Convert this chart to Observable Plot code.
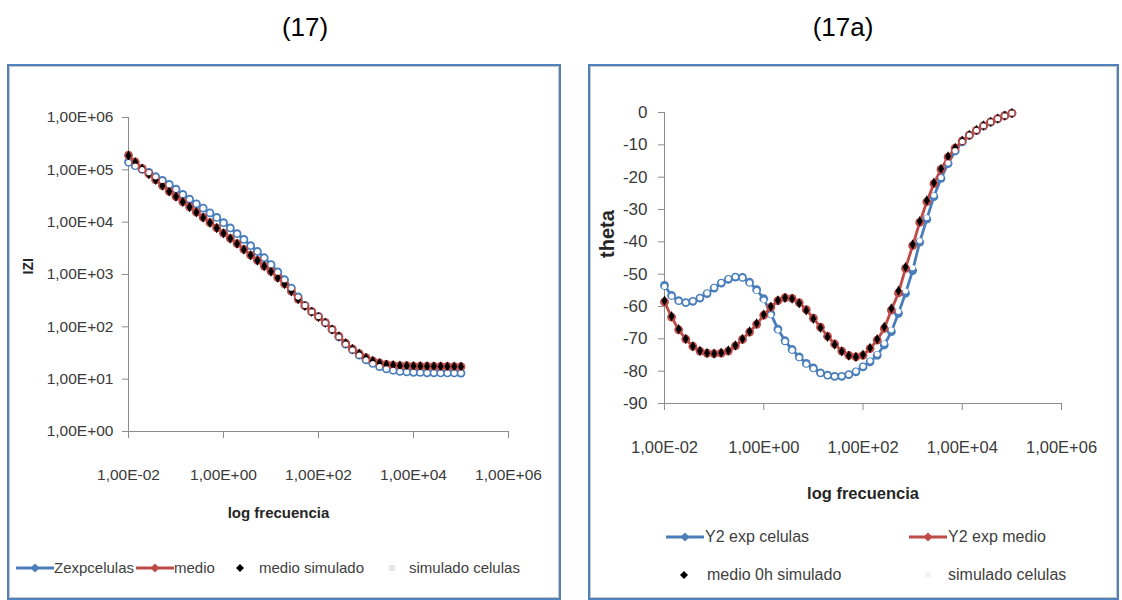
<!DOCTYPE html>
<html><head><meta charset="utf-8">
<script src="https://cdn.jsdelivr.net/npm/d3@7"></script>
<script src="https://cdn.jsdelivr.net/npm/@observablehq/plot@0.6"></script>
<style>
body{margin:0;background:#fff;}
#page{position:relative;width:1122px;height:600px;overflow:hidden;background:#fff;font-family:"Liberation Sans",Arial,sans-serif;}
.title{position:absolute;top:9px;font-family:"Liberation Sans",Arial,sans-serif;font-size:26px;color:#000;transform:translateX(-50%);white-space:nowrap;line-height:36px;}
.box{position:absolute;box-sizing:border-box;border:2px solid #4f81bd;box-shadow:inset 0 0 0 1px #c4c4c4;}
.holder{position:absolute;}
.leg{position:absolute;white-space:nowrap;color:#404040;height:24px;line-height:24px;}
.sw{position:absolute;}
</style></head>
<body><div id="page">
<div class="title" style="left:305px">(17)</div>
<div class="title" style="left:843px">(17a)</div>
<div class="box" style="left:7px;top:64px;width:554px;height:536px"></div>
<div class="box" style="left:588px;top:64px;width:531px;height:536px"></div>
<div id="left" class="holder" style="left:10px;top:67px;width:535px;height:470px"></div>
<div id="right" class="holder" style="left:591px;top:67px;width:510px;height:450px"></div>
</div>
<script>
// ---------- data ----------
const freq = [0.01,0.01389,0.01931,0.02683,0.03728,0.05179,0.07197,
  0.1,0.1389,0.1931,0.2683,0.3728,0.5179,0.7197,
  1,1.389,1.931,2.683,3.728,5.179,7.197,
  10,13.89,19.31,26.83,37.28,51.79,71.97,
  100,138.9,193.1,268.3,372.8,517.9,719.7,
  1000,1389,1931,2683,3728,5179,7197,
  10000,13895,19307,26827,37276,51795,71969,100000];

// |Z| (chart 17)
const zCells = [141000,120000,102000,89100,74100,63100,52500,42700,33900,27500,
  22400,18600,15100,12300,9770,7760,6030,4680,3550,2750,
  2090,1550,1120,794,550,372,257,195,158,120,
  89.1,64.6,46.8,36.3,28.8,23.4,20.0,17.4,15.8,14.8,
  14.1,13.8,13.5,13.5,13.2,13.2,13.2,13.2,13.2,13.1];
const zMedio = [191000,141000,107000,83200,64600,50100,38900,30900,24500,19500,
  15500,12300,9770,7760,6170,4900,3890,3020,2340,1860,
  1450,1150,871,661,479,339,251,195,155,120,
  89.1,66.1,49.0,38.0,30.9,25.7,22.4,20.4,19.1,18.6,
  18.2,18.2,17.8,17.8,17.7,17.6,17.6,17.5,17.4,17.3];
const zSimMedio = [186000,139000,106000,82500,64000,49800,38700,30800,24400,19400,
  15400,12200,9700,7700,6120,4870,3870,3000,2330,1850,
  1440,1140,865,655,476,337,250,194,154,119,
  88.5,65.8,48.8,37.9,30.8,25.6,22.3,20.3,19.0,18.5,
  18.1,18.0,17.8,17.7,17.6,17.6,17.5,17.4,17.4,17.3];
const zSimCells = [138000,118000,101000,88300,73500,62600,52100,42400,33700,27400,
  22300,18500,15000,12200,9700,7700,5990,4650,3530,2740,
  2080,1540,1110,790,548,371,256,194,157,119,
  88.7,64.3,46.6,36.2,28.7,23.3,19.9,17.3,15.7,14.7,
  14.0,13.7,13.5,13.4,13.2,13.2,13.1,13.1,13.1,13.1];

// theta (chart 17a)
const thetaCells = [-53.5,-56.6,-58.2,-58.8,-58.4,-57.4,-56.0,-54.3,-52.8,-51.6,
  -50.9,-51.0,-52.5,-54.8,-57.6,-62.3,-67.0,-70.6,-73.3,-75.6,
  -77.6,-79.0,-80.5,-81.2,-81.6,-81.6,-81.1,-80.2,-78.7,-77.1,
  -75.1,-71.9,-67.8,-62.1,-55.9,-48.9,-40.1,-33.0,-26.0,-20.4,
  -15.8,-11.9,-9.1,-7.1,-5.6,-4.2,-3.0,-2.0,-1.0,-0.2];
const thetaMedio = [-58.6,-63.3,-67.2,-70.1,-72.3,-73.8,-74.4,-74.6,-74.4,-73.8,
  -72.2,-70.2,-67.9,-65.5,-62.7,-60.2,-58.2,-57.3,-57.5,-58.8,
  -61.0,-63.6,-66.4,-69.2,-71.6,-73.8,-75.1,-75.6,-75.1,-73.0,
  -70.4,-66.8,-61.1,-55.8,-48.2,-41.2,-34.0,-27.6,-22.0,-17.6,
  -13.8,-11.0,-8.8,-7.0,-5.5,-4.1,-2.9,-1.9,-1.0,-0.2];
const thetaSimMedio = [-58.2,-63.0,-67.0,-70.0,-72.3,-73.7,-74.4,-74.6,-74.3,-73.6,
  -72.0,-70.0,-67.7,-65.2,-62.5,-60.0,-58.1,-57.3,-57.6,-59.0,
  -61.2,-63.8,-66.6,-69.4,-71.8,-73.9,-75.2,-75.6,-74.9,-72.8,
  -70.1,-66.3,-60.6,-55.1,-47.8,-40.8,-33.6,-27.2,-21.7,-17.4,
  -13.6,-10.9,-8.7,-6.9,-5.4,-4.0,-2.9,-1.9,-1.0,-0.2];
const thetaSimCells = [-53.8,-56.8,-58.3,-58.8,-58.3,-57.3,-55.8,-54.1,-52.6,-51.4,
  -50.8,-51.1,-52.7,-55.1,-58.0,-62.6,-67.3,-70.8,-73.5,-75.8,
  -77.8,-79.2,-80.6,-81.3,-81.6,-81.5,-81.0,-80.0,-78.5,-76.8,
  -74.7,-71.4,-67.2,-61.5,-55.2,-48.0,-39.6,-32.5,-25.6,-20.1,
  -15.6,-11.8,-9.0,-7.0,-5.5,-4.1,-2.9,-1.9,-1.0,-0.2];

// ticks & labels
const freqTicks = [0.01, 1, 100, 10000, 1000000];
const freqTickLabels = ["1,00E-02","1,00E+00","1,00E+02","1,00E+04","1,00E+06"];
const zTicks = [1, 10, 100, 1000, 10000, 100000, 1000000];
const zTickLabels = ["1,00E+00","1,00E+01","1,00E+02","1,00E+03","1,00E+04","1,00E+05","1,00E+06"];
const thetaTicks = [0,-10,-20,-30,-40,-50,-60,-70,-80,-90];
const thetaTickLabels = ["0","-10","-20","-30","-40","-50","-60","-70","-80","-90"];
const xTitle = "log frecuencia";
const yTitleLeft = "IZI";
const yTitleRight = "theta";
const leftNames = ["Zexpcelulas","medio","medio simulado","simulado celulas"];
const rightNames = ["Y2 exp celulas","Y2 exp medio","medio 0h simulado","simulado celulas"];

// ---------- style ----------
const BLUE = "#4a7ebb", RED = "#be4b48", AXIS = "#8c8c8c", TXT = "#3a3a3a";
const FONT = '"Liberation Sans",Arial,sans-serif';
const lab = (ticks, labels) => { const m = new Map(ticks.map((t,i)=>[t, labels[i]])); return d => m.get(d) ?? ""; };

function seriesMarks(data, k) {
  return [
    Plot.line(data, {x:"f", y:k[0], stroke:BLUE, strokeWidth:2.8}),
    Plot.dot(data, {x:"f", y:k[0], r:4.4, fill:BLUE}),
    Plot.line(data, {x:"f", y:k[1], stroke:RED, strokeWidth:2.8}),
    Plot.dot(data, {x:"f", y:k[1], r:4.4, fill:RED}),
    Plot.dot(data, {x:"f", y:k[2], r:3.1, symbol:"diamond", fill:"#000"}),
    Plot.dot(data, {x:"f", y:k[3], r:2.6, fill:"#fff"})
  ];
}

// ---------- left chart ----------
const leftData = freq.map((f,i)=>({f, a:zCells[i], b:zMedio[i], c:zSimMedio[i], d:zSimCells[i]}));
const left = Plot.plot({
  width:535, height:470, marginLeft:118, marginRight:37, marginTop:50, marginBottom:106,
  style:`background:transparent;font-family:${FONT};font-size:15.5px;color:${TXT};overflow:visible;`,
  x:{type:"log", domain:[0.01, 1e6]},
  y:{type:"log", domain:[1, 1e6]},
  marks:[
    Plot.ruleX([0.01], {stroke:AXIS}),
    Plot.ruleY([1], {stroke:AXIS}),
    Plot.axisX(freqTicks, {tickSize:7, tickPadding:30, stroke:AXIS, fill:TXT, tickFormat:lab(freqTicks,freqTickLabels), label:null, fontSize:15.5}),
    Plot.axisY(zTicks, {tickSize:6, tickPadding:9, stroke:AXIS, fill:TXT, tickFormat:lab(zTicks,zTickLabels), label:null, fontSize:15.5}),
    Plot.text([xTitle], {frameAnchor:"bottom", dx:-40, dy:86, fontWeight:"bold", fontSize:15, fill:"#262626"}),
    Plot.text([yTitleLeft], {frameAnchor:"left", dx:-100, rotate:-90, fontWeight:"bold", fontSize:14, fill:"#262626"}),
    ...seriesMarks(leftData, ["a","b","c","d"])
  ]
});
document.getElementById("left").appendChild(left);

// ---------- right chart ----------
const rightData = freq.map((f,i)=>({f, a:thetaCells[i], b:thetaMedio[i], c:thetaSimMedio[i], d:thetaSimCells[i]}));
const right = Plot.plot({
  width:510, height:450, marginLeft:73, marginRight:40, marginTop:45, marginBottom:114,
  style:`background:transparent;font-family:${FONT};font-size:16px;color:${TXT};overflow:visible;`,
  x:{type:"log", domain:[0.01, 1e6]},
  y:{domain:[-90, 0]},
  marks:[
    Plot.ruleX([0.01], {stroke:AXIS}),
    Plot.ruleY([-90], {stroke:AXIS}),
    Plot.axisX(freqTicks, {tickSize:7, tickPadding:31, stroke:AXIS, fill:TXT, tickFormat:lab(freqTicks,freqTickLabels), label:null, fontSize:16.5}),
    Plot.axisY(thetaTicks, {tickSize:6, tickPadding:11, stroke:AXIS, fill:TXT, tickFormat:lab(thetaTicks,thetaTickLabels), label:null, fontSize:17}),
    Plot.text([xTitle], {frameAnchor:"bottom", dx:0, dy:95, fontWeight:"bold", fontSize:16.5, fill:"#262626"}),
    Plot.text([yTitleRight], {frameAnchor:"left", dx:-57, rotate:-90, fontWeight:"bold", fontSize:20, fill:"#262626"}),
    ...seriesMarks(rightData, ["a","b","c","d"])
  ]
});
document.getElementById("right").appendChild(right);

// ---------- legends ----------
const page = document.getElementById("page");
function swatch(x, y, kind, color) {
  const s = document.createElementNS("http://www.w3.org/2000/svg","svg");
  s.setAttribute("class","sw");
  if (kind === "line") {
    s.setAttribute("width", 38); s.setAttribute("height", 12);
    s.style.left = x + "px"; s.style.top = (y - 6) + "px";
    s.innerHTML = `<line x1="0" y1="6" x2="38" y2="6" stroke="${color}" stroke-width="2.8"/>` +
      `<polygon points="19,1.5 23.5,6 19,10.5 14.5,6" fill="${color}"/>`;
  } else if (kind === "diamond") {
    s.setAttribute("width", 10); s.setAttribute("height", 10);
    s.style.left = (x - 5) + "px"; s.style.top = (y - 5) + "px";
    s.innerHTML = `<polygon points="5,1 9,5 5,9 1,5" fill="${color}"/>`;
  } else {
    s.setAttribute("width", 10); s.setAttribute("height", 10);
    s.style.left = (x - 5) + "px"; s.style.top = (y - 5) + "px";
    s.innerHTML = `<rect x="2" y="2" width="6" height="6" fill="${color}"/>`;
  }
  page.appendChild(s);
}
function legText(x, y, text, size) {
  const d = document.createElement("div");
  d.className = "leg"; d.textContent = text;
  d.style.left = x + "px"; d.style.top = (y - 12) + "px"; d.style.fontSize = size + "px";
  page.appendChild(d);
}
// left legend
swatch(16, 568, "line", BLUE);  legText(54, 568, leftNames[0], 15);
swatch(136, 568, "line", RED);  legText(174, 568, leftNames[1], 15);
swatch(240, 568, "diamond", "#000"); legText(259, 568, leftNames[2], 15);
swatch(392, 568, "square", "#e6e6e6"); legText(409, 568, leftNames[3], 15);
// right legend
swatch(666, 537, "line", BLUE); legText(705, 537, rightNames[0], 16);
swatch(909, 537, "line", RED);  legText(948, 537, rightNames[1], 16);
swatch(684, 575, "diamond", "#000"); legText(707, 575, rightNames[2], 16);
swatch(928, 575, "square", "#f4f4f4"); legText(948, 575, rightNames[3], 16);
</script>
</body></html>
